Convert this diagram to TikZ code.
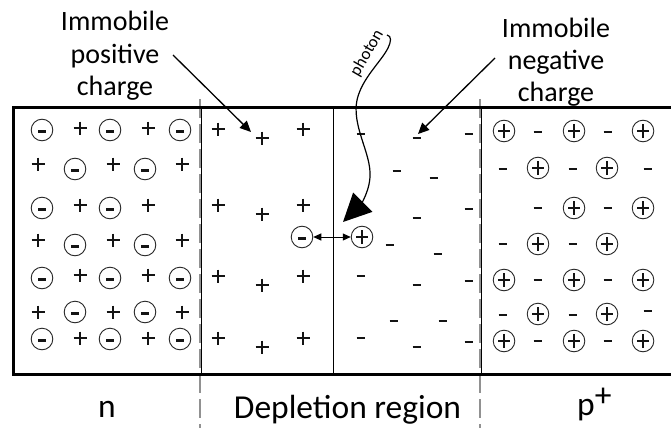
\documentclass[tikz,border=0pt]{standalone}
\usepackage{fontspec}
\setmainfont{Carlito}
\usetikzlibrary{arrows.meta}

\definecolor{dashgray}{RGB}{145,145,145}
\definecolor{ink}{RGB}{20,20,20}

\tikzset{
  % charge symbols
  pls/.pic={\draw[ink, line width=1.5pt] (-6.5,0) -- (6.5,0) (0,-6.5) -- (0,6.5);},
  mns/.pic={\draw[ink, line width=2.6pt] (-4.3,0) -- (4.3,0);},
  nring/.pic={\draw[black!85, line width=0.9pt] (0,0) circle[radius=10.8];
              \draw[ink, line width=3pt] (-4,1) -- (4,1);},
  pring/.pic={\draw[black!85, line width=0.9pt] (0,0) circle[radius=10.8];
              \draw[ink, line width=1.4pt] (-6,0) -- (6,0) (0,-7) -- (0,7);},
  ring/.style={circle, draw=black!85, line width=0.9pt, minimum size=21.6pt, inner sep=0pt},
  label/.style={align=center, inner sep=0pt, font=\fontsize{28}{32}\selectfont},
  bottomlabel/.style={inner sep=0pt, anchor=base, font=\fontsize{33.5}{40}\selectfont},
  ptr/.style={line width=1.3pt, -{Triangle[length=11pt,width=10pt]}},
  boundary/.style={dashgray, line width=2.8pt, dash pattern=on 19pt off 6pt},
  junction/.style={line width=0.8pt},
}

\begin{document}
\begin{tikzpicture}[x=1pt, y=-1pt]
\useasboundingbox (0,0) rectangle (671,428);

% junction boundaries (gray dashed) with thin edges of the depletion layer
\draw[boundary] (200,99) -- (200,428);
\draw[boundary] (480,99) -- (480,428);
\draw[junction] (201,107.5) -- (201,374.5);
\draw[junction] (333,107.5) -- (333,374.5);
\draw[junction] (481,107.5) -- (481,374.5);

% the semiconductor slab
\draw[line width=3pt] (672,107.5) -- (13.3,107.5) -- (13.3,374.5) -- (672,374.5);

% n side: electrons and donor ions
\foreach \x in {42,110,180} {
  \pic at (\x,130) {nring};
  \pic at (\x,278) {nring};
  \pic at (\x,339) {nring};
}
\foreach \x in {42,110} \pic at (\x,208) {nring};
\foreach \x in {75,145} {
  \pic at (\x,169) {nring};
  \pic at (\x,245) {nring};
  \pic at (\x,312) {nring};
}
\foreach \x in {80,148} {
  \pic at (\x,128) {pls};
  \pic at (\x,205) {pls};
  \pic at (\x,275) {pls};
  \pic at (\x,338) {pls};
}
\foreach \x in {38,113,182} {
  \pic at (\x,164) {pls};
  \pic at (\x,240) {pls};
  \pic at (\x,312) {pls};
}

% depletion region, n half: fixed positive ions
\foreach \y in {129,205,276,338} {
  \pic at (218,\y) {pls};
  \pic at (303,\y) {pls};
}
\foreach \y in {138,214,285,347} \pic at (262,\y) {pls};

% depletion region, p half: fixed negative ions
\foreach \x/\y in {361/134,417/138,469/134,397/171,434/178,361/205,417/218,469/209,
                   390/245,438/254,361/276,417/285,469/281,394/321,443/321,
                   361/338,417/347,469/342}
  \pic at (\x,\y) {mns};

% p+ side: holes and acceptor ions
\foreach \x in {504,574,643} {
  \pic at (\x,131) {pring};
  \pic at (\x,280) {pring};
  \pic at (\x,341) {pring};
}
\foreach \x in {574,643} \pic at (\x,208) {pring};
\foreach \x in {538,607} {
  \pic at (\x,168) {pring};
  \pic at (\x,244) {pring};
  \pic at (\x,314) {pring};
}
\foreach \x in {538,608} {
  \pic at (\x,132) {mns};
  \pic at (\x,208) {mns};
  \pic at (\x,280) {mns};
  \pic at (\x,341) {mns};
}
\foreach \x in {503,573} {
  \pic at (\x,169) {mns};
  \pic at (\x,244) {mns};
  \pic at (\x,315) {mns};
}
\pic at (648,169) {mns};
\pic at (648,311) {mns};

% electron-hole pair created by the photon
\node[ring] (elec) at (302,237) {};
\node[ring] (hole) at (362,237) {};
\draw[ink, line width=3pt] ([xshift=-4pt,yshift=-1pt]elec.center) -- ([xshift=4pt,yshift=-1pt]elec.center);
\draw[ink, line width=1.4pt] ([xshift=-6pt]hole.center) -- ([xshift=6pt]hole.center)
  ([yshift=-7pt]hole.center) -- ([yshift=7pt]hole.center);
\draw[line width=1pt, {Triangle[length=8pt,width=7pt]}-{Triangle[length=8pt,width=7pt]}]
  (elec) -- (hole);

% labels (anchor=base sits on the last line)
\node[label, anchor=base] (lpos) at (115,95) {Immobile\\positive\\charge};
\node[label, anchor=base] (lneg) at (556,101) {Immobile\\negative\\charge};
\node[inner sep=0pt, rotate=60, font=\fontsize{17}{20}\selectfont] (lph) at (367,53) {photon};
\node[bottomlabel] (ln) at (107,417) {n};
\node[bottomlabel] (ldep) at (347.5,418) {Depletion region};
\node[bottomlabel, anchor=base west] (lp) at (577,415) {p\raisebox{9pt}{+}};

% pointers to the fixed charges
\coordinate (pos-from) at (173,55);
\coordinate (pos-to) at (251,132);
\coordinate (neg-from) at (495,58);
\coordinate (neg-to) at (418,134);
\draw[ptr] (pos-from) -- (pos-to);
\draw[ptr] (neg-from) -- (neg-to);

% incoming photon
\coordinate (ph-start) at (387,35);
\coordinate (ph-end) at (343,222);
\draw[line width=1.2pt, -{Triangle[length=28pt,width=27pt]}]
  (ph-start) .. controls (392,36) and (391,42) .. (388,48)
  .. controls (381,62) and (362,78) .. (357,100)
  .. controls (352,125) and (369,150) .. (370,172)
  .. controls (371,190) and (360,205) .. (ph-end);
\end{tikzpicture}
\end{document}
